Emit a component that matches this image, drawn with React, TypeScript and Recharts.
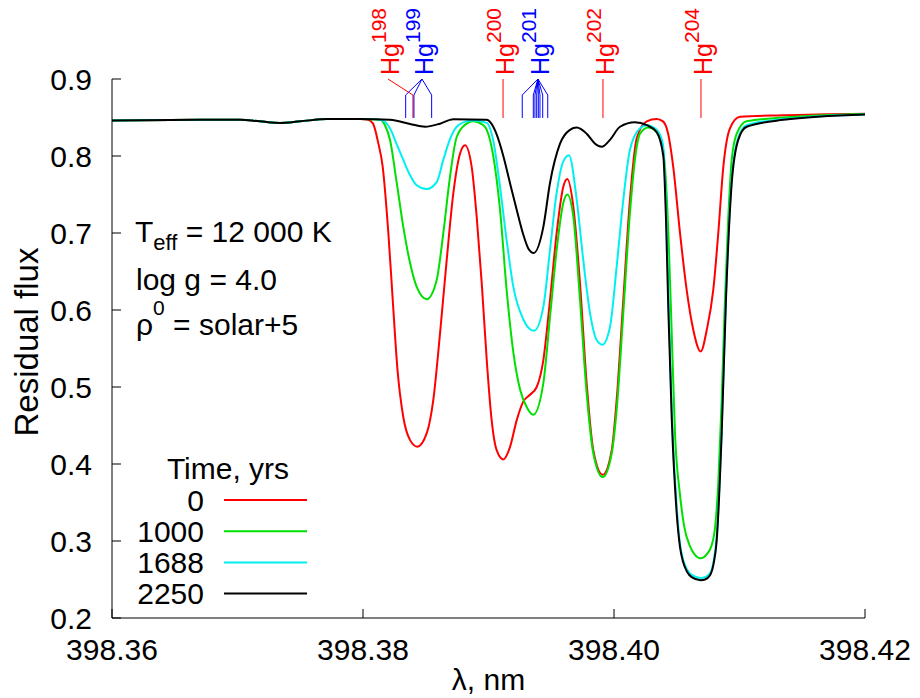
import React from 'react';
import { LineChart, Line, XAxis, YAxis, ReferenceLine, ReferenceDot, Legend, Label } from 'recharts';

const FONT = '"Liberation Sans", Arial, Helvetica, sans-serif';

const xTicks = [398.36, 398.38, 398.4, 398.42];
const yTicks = [0.2, 0.3, 0.4, 0.5, 0.6, 0.7, 0.8, 0.9];

const times = ['0', '1000', '1688', '2250'];
const colors = ['#ff0000', '#00e000', '#00f0f0', '#000000'];

const head: [number, number][] = [
  [398.36, 0.846], [398.36701, 0.847], [398.3702, 0.847], [398.37179, 0.845],
  [398.37339, 0.843], [398.37498, 0.845], [398.37713, 0.848], [398.37976, 0.848],
];

const flux0: [number, number][] = [
  ...head,
  [398.3804, 0.847], [398.3808, 0.842], [398.3812, 0.818], [398.38157, 0.786], [398.38202, 0.7],
  [398.38237, 0.613], [398.38273, 0.526], [398.38321, 0.461], [398.38375, 0.431], [398.38433, 0.4225],
  [398.38508, 0.44], [398.3856, 0.483], [398.38614, 0.57], [398.38667, 0.665], [398.3872, 0.752],
  [398.38773, 0.803], [398.38813, 0.814], [398.38866, 0.786], [398.38906, 0.721], [398.38946, 0.635],
  [398.38986, 0.535], [398.39025, 0.457], [398.39065, 0.418], [398.39118, 0.406], [398.39171, 0.422],
  [398.39225, 0.457], [398.39277, 0.481], [398.39331, 0.49], [398.39384, 0.5], [398.39437, 0.535],
  [398.3949, 0.613], [398.39543, 0.7], [398.39596, 0.76], [398.39628, 0.77], [398.39676, 0.734],
  [398.39729, 0.635], [398.39782, 0.505], [398.39835, 0.418], [398.3991, 0.386], [398.39982, 0.418],
  [398.40021, 0.483], [398.40074, 0.613], [398.40127, 0.743], [398.40181, 0.823], [398.40261, 0.845],
  [398.4034, 0.848], [398.4039, 0.845], [398.4043, 0.83], [398.40472, 0.786], [398.40526, 0.7],
  [398.40579, 0.626], [398.40632, 0.574], [398.40691, 0.546], [398.40739, 0.574], [398.40791, 0.626],
  [398.40831, 0.7], [398.40871, 0.786], [398.40924, 0.836], [398.41004, 0.851], [398.41347, 0.853],
  [398.42, 0.855],
];

const flux1000: [number, number][] = [
  ...head,
  [398.38135, 0.847], [398.38175, 0.84], [398.38215, 0.821], [398.38269, 0.765], [398.38321, 0.708],
  [398.38375, 0.661], [398.38428, 0.63], [398.38508, 0.614], [398.38587, 0.639], [398.3864, 0.7],
  [398.38693, 0.773], [398.38747, 0.825], [398.38826, 0.842], [398.38879, 0.845], [398.38959, 0.84],
  [398.38986, 0.834], [398.39038, 0.8], [398.39092, 0.73], [398.39145, 0.625], [398.39198, 0.545],
  [398.39251, 0.497], [398.39304, 0.474], [398.39357, 0.464], [398.39437, 0.505], [398.3949, 0.591],
  [398.39543, 0.678], [398.39596, 0.739], [398.39628, 0.75], [398.39676, 0.721], [398.39729, 0.613],
  [398.39782, 0.492], [398.39835, 0.414], [398.3991, 0.383], [398.39982, 0.414], [398.40021, 0.47],
  [398.40074, 0.596], [398.40127, 0.726], [398.40181, 0.812], [398.40207, 0.829], [398.40273, 0.837],
  [398.40367, 0.825], [398.40406, 0.786], [398.40433, 0.7], [398.4046, 0.57], [398.40486, 0.44],
  [398.40526, 0.36], [398.40558, 0.32], [398.40606, 0.293], [398.40645, 0.282], [398.40691, 0.2775],
  [398.40735, 0.282], [398.40775, 0.293], [398.40807, 0.32], [398.40831, 0.375],
  [398.40858, 0.483], [398.40884, 0.613], [398.40911, 0.721], [398.40938, 0.795], [398.40978, 0.829],
  [398.41057, 0.845], [398.4135, 0.85], [398.42, 0.8545],
];

const flux1688: [number, number][] = [
  ...head,
  [398.3808, 0.848], [398.38159, 0.846], [398.38215, 0.836], [398.38269, 0.815], [398.38321, 0.795],
  [398.38375, 0.775], [398.38428, 0.762], [398.38508, 0.757], [398.38587, 0.766], [398.3864, 0.795],
  [398.38693, 0.822], [398.38747, 0.838], [398.38826, 0.845], [398.38879, 0.846], [398.38986, 0.843],
  [398.39038, 0.82], [398.39092, 0.76], [398.39145, 0.69], [398.39198, 0.63], [398.39277, 0.588],
  [398.39331, 0.575], [398.39363, 0.573], [398.39437, 0.604], [398.3949, 0.678], [398.39543, 0.752],
  [398.39596, 0.793], [398.39641, 0.801], [398.39703, 0.743], [398.39755, 0.665], [398.39809, 0.596],
  [398.39862, 0.561], [398.39907, 0.555], [398.39968, 0.578], [398.40021, 0.656], [398.40074, 0.743],
  [398.40127, 0.808], [398.40207, 0.836], [398.40261, 0.84], [398.4034, 0.834], [398.4039, 0.815],
  [398.40414, 0.74], [398.40438, 0.6], [398.40462, 0.46], [398.40502, 0.34], [398.40526, 0.296],
  [398.40552, 0.275], [398.40582, 0.263], [398.40619, 0.256], [398.40691, 0.252], [398.40725, 0.253],
  [398.40765, 0.258], [398.40792, 0.272], [398.40818, 0.305], [398.40858, 0.445],
  [398.40892, 0.62], [398.40938, 0.77], [398.4099, 0.824], [398.41057, 0.84], [398.4135, 0.848],
  [398.42, 0.854],
];

const flux2250: [number, number][] = [
  ...head,
  [398.38215, 0.847], [398.38375, 0.8416], [398.38494, 0.838], [398.38614, 0.842], [398.3872, 0.8477],
  [398.38986, 0.847], [398.39038, 0.838], [398.39065, 0.828], [398.39118, 0.8], [398.39171, 0.765],
  [398.39225, 0.73], [398.39277, 0.698], [398.39317, 0.68], [398.3936, 0.674], [398.39437, 0.708],
  [398.3949, 0.765], [398.3957, 0.816], [398.39649, 0.834], [398.39703, 0.837], [398.39782, 0.829],
  [398.39849, 0.816], [398.39902, 0.812], [398.39968, 0.821], [398.40048, 0.838], [398.40167, 0.8437],
  [398.40261, 0.84], [398.4034, 0.831], [398.40393, 0.8], [398.40414, 0.72], [398.40433, 0.6],
  [398.4046, 0.46], [398.405, 0.335], [398.40526, 0.292], [398.40552, 0.272], [398.40582, 0.26],
  [398.40619, 0.253], [398.40691, 0.249], [398.40725, 0.25], [398.40765, 0.2555], [398.40793, 0.27],
  [398.40818, 0.3], [398.40858, 0.44], [398.40892, 0.613], [398.40938, 0.765],
  [398.4099, 0.821], [398.41057, 0.838], [398.4135, 0.847], [398.42, 0.854],
];

const seriesData = [flux0, flux1000, flux1688, flux2250];

// Hg isotope line marks
const hgIsotopes = ['198', '199', '200', '201', '202', '204'];
const hgColors = ['#ff0000', '#0000ff', '#ff0000', '#0000ff', '#ff0000', '#ff0000'];
const hgTop = [398.38199, 398.3847, 398.39116, 398.39394, 398.39912, 398.40693];
const hgComponents: number[][] = [
  [398.38398],
  [398.3834, 398.38406, 398.38547],
  [398.39116],
  [398.39269, 398.39357, 398.3937, 398.39384, 398.39397, 398.3941, 398.39432, 398.39472],
  [398.39912],
  [398.40693],
];
const hgFluxTop = 0.9;
const hgFluxBend = 0.8792;
const hgFluxBottom = 0.8494;

const toRows = (a: [number, number][]) => a.map(([l, f]) => ({ l, f }));

const XTickBottom = (p: any) => (
  <g>
    <line x1={p.x} y1={p.y} x2={p.x} y2={p.y - 9} stroke="#000" strokeWidth={1} />
    <text x={p.x} y={p.y + 42} textAnchor="middle" fontSize={30} fontFamily={FONT} fill="#000">
      {Number(p.payload.value).toFixed(2)}
    </text>
  </g>
);
const XTickTop = (p: any) => (
  <line x1={p.x} y1={p.y} x2={p.x} y2={p.y + 9} stroke="#000" strokeWidth={1} />
);
const YTickLeft = (p: any) => (
  <g>
    <line x1={p.x} y1={p.y} x2={p.x + 9} y2={p.y} stroke="#000" strokeWidth={1} />
    <text x={p.x - 20} y={p.y + 10.5} textAnchor="end" fontSize={30} fontFamily={FONT} fill="#000">
      {Number(p.payload.value).toFixed(1)}
    </text>
  </g>
);
const YTickRight = (p: any) => (
  <line x1={p.x} y1={p.y} x2={p.x - 9} y2={p.y} stroke="#000" strokeWidth={1} />
);

const hgShape = (i: number) => (props: any) => {
  const bx = props.cx + 11;
  const by = props.cy - 4;
  return (
    <text
      x={bx}
      y={by}
      transform={`rotate(-90 ${bx} ${by})`}
      fill={hgColors[i]}
      fontSize={25}
      fontFamily={FONT}
    >
      Hg
      <tspan dy={-13} fontSize={21}>{hgIsotopes[i]}</tspan>
    </text>
  );
};

const LegendContent = (props: any) => {
  const payload: any[] = props.payload || [];
  return (
    <svg width={920} height={698} style={{ position: 'absolute', left: 0, top: 0 }}>
      <text x={228} y={479} textAnchor="middle" fontSize={30} fontFamily={FONT} fill="#000">
        Time, yrs
      </text>
      {times.map((t, i) => {
        const item = payload.find((p) => String(p.value) === t);
        const c = item ? item.color : colors[i];
        const cy = 500 + i * 31.2;
        return (
          <g key={t}>
            <text x={204} y={cy + 10.5} textAnchor="end" fontSize={30} fontFamily={FONT} fill="#000">
              {t}
            </text>
            <line x1={224} y1={cy} x2={307} y2={cy} stroke={c} strokeWidth={2} />
          </g>
        );
      })}
    </svg>
  );
};

export default function App() {
  const segs: any[] = [];
  hgComponents.forEach((comps, i) => {
    comps.forEach((c, j) => {
      segs.push(
        <ReferenceLine
          key={`d${i}-${j}`}
          segment={[{ x: hgTop[i], y: hgFluxTop }, { x: c, y: hgFluxBend }]}
          stroke={hgColors[i]}
          strokeWidth={1}
          ifOverflow="visible"
        />
      );
      segs.push(
        <ReferenceLine
          key={`v${i}-${j}`}
          segment={[{ x: c, y: hgFluxBend }, { x: c, y: hgFluxBottom }]}
          stroke={hgColors[i]}
          strokeWidth={1}
          ifOverflow="visible"
        />
      );
    });
  });

  return (
    <div style={{ position: 'absolute', left: 0, top: 0, width: 920, height: 698, background: '#fff' }}>
      <LineChart width={920} height={698} margin={{ top: 79, right: 55, bottom: 0, left: 0 }}>
        <XAxis
          xAxisId={0}
          dataKey="l"
          type="number"
          domain={[398.36, 398.42]}
          ticks={xTicks}
          interval={0}
          height={80}
          tickSize={0}
          tickMargin={0}
          tickLine={false}
          axisLine={{ stroke: '#000', strokeWidth: 1 }}
          tick={XTickBottom}
          allowDataOverflow
        >
          <Label
            content={(p: any) => {
              const vb = p.viewBox || { x: 112, y: 618, width: 753, height: 80 };
              return (
                <text x={vb.x + vb.width / 2} y={vb.y + 72} textAnchor="middle" fontSize={30} fontFamily={FONT} fill="#000">
                  λ, nm
                </text>
              );
            }}
          />
        </XAxis>
        <XAxis
          xAxisId="top"
          orientation="top"
          dataKey="l"
          type="number"
          domain={[398.36, 398.42]}
          ticks={xTicks}
          interval={0}
          height={0}
          tickSize={0}
          tickMargin={0}
          tickLine={false}
          axisLine={{ stroke: '#000', strokeWidth: 1 }}
          tick={XTickTop}
          allowDataOverflow
        />
        <YAxis
          yAxisId={0}
          type="number"
          domain={[0.2, 0.9]}
          ticks={yTicks}
          interval={0}
          width={112}
          tickSize={0}
          tickMargin={0}
          tickLine={false}
          axisLine={{ stroke: '#000', strokeWidth: 1 }}
          tick={YTickLeft}
          allowDataOverflow
        >
          <Label
            content={(p: any) => {
              const cx = 38;
              const cy = 342;
              return (
                <text x={cx} y={cy} transform={`rotate(-90 ${cx} ${cy})`} textAnchor="middle" fontSize={33} fontFamily={FONT} fill="#000">
                  Residual flux
                </text>
              );
            }}
          />
        </YAxis>
        <YAxis
          yAxisId="right"
          orientation="right"
          type="number"
          domain={[0.2, 0.9]}
          ticks={yTicks}
          interval={0}
          width={0}
          tickSize={0}
          tickMargin={0}
          tickLine={false}
          axisLine={{ stroke: '#000', strokeWidth: 1 }}
          tick={YTickRight}
          allowDataOverflow
        />
        {seriesData.map((d, i) => (
          <Line
            key={times[i]}
            name={times[i]}
            data={toRows(d)}
            dataKey="f"
            type="monotone"
            stroke={colors[i]}
            strokeWidth={2}
            dot={false}
            activeDot={false}
            isAnimationActive={false}
          />
        ))}
        {segs}
        {hgIsotopes.map((iso, i) => (
          <ReferenceDot key={iso} x={hgTop[i]} y={hgFluxTop} r={0} ifOverflow="visible" shape={hgShape(i)} />
        ))}
        <Legend
          layout="vertical"
          align="center"
          verticalAlign="middle"
          content={LegendContent}
          wrapperStyle={{ left: 0, top: 0, width: 920, height: 698, pointerEvents: 'none' }}
        />
      </LineChart>
      <svg width={920} height={698} style={{ position: 'absolute', left: 0, top: 0, pointerEvents: 'none' }}>
        <text x={135} y={242} fontSize={30} fontFamily={FONT} fill="#000">
          T<tspan fontSize={22} dy={8}>eff</tspan>
          <tspan dy={-8}> = 12 000 K</tspan>
        </text>
        <text x={136} y={290} fontSize={30} fontFamily={FONT} fill="#000">
          log g = 4.0
        </text>
        <text x={136} y={335} fontSize={30} fontFamily={FONT} fill="#000">
          ρ<tspan fontSize={21} dy={-20}>0</tspan>
          <tspan dy={20}> = solar+5</tspan>
        </text>
      </svg>
    </div>
  );
}
